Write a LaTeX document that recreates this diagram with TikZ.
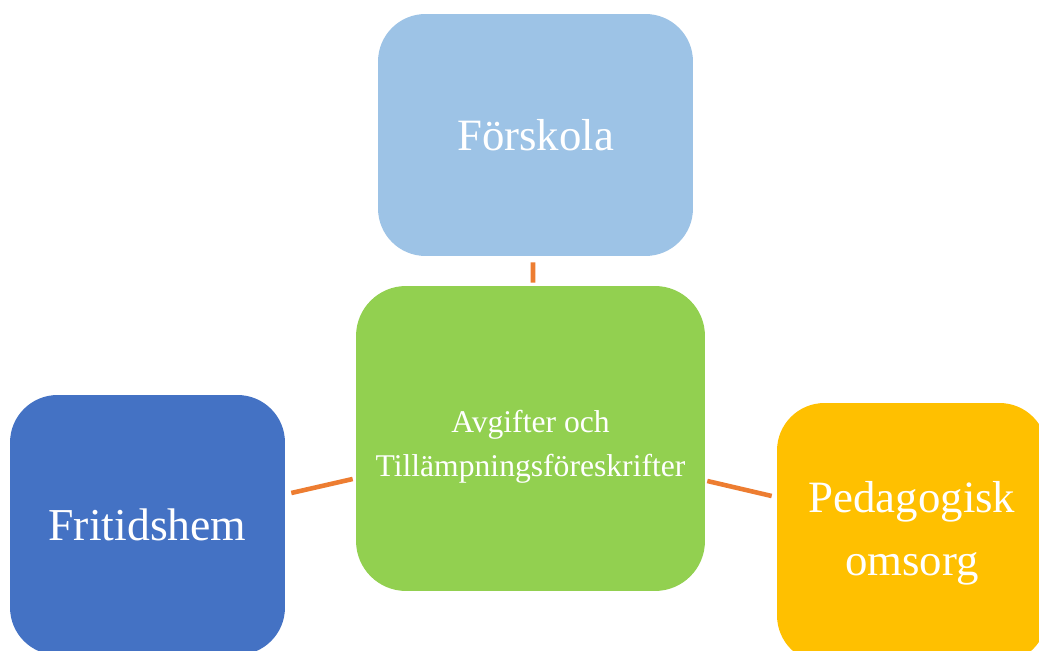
\documentclass[tikz,border=0pt]{standalone}
\usepackage{fontspec}
\setmainfont{Liberation Serif}
\usetikzlibrary{positioning,calc}
\definecolor{fsBlue}{HTML}{9DC3E6}
\definecolor{avGreen}{HTML}{92D050}
\definecolor{frBlue}{HTML}{4472C4}
\definecolor{peGold}{HTML}{FFC000}
\definecolor{lnOrange}{HTML}{ED7D31}
\begin{document}
\begin{tikzpicture}[x=0.02cm,y=-0.02cm,
      b/.style={rounded corners=0.95cm,align=center,text=white,inner sep=0pt},
      link/.style={draw=lnOrange,line width=2.6pt}]
    \clip (0,0) rectangle (1039,651);
    \fill[white] (0,0) rectangle (1039,651);
    \node[b,fill=fsBlue,minimum width=6.3cm,minimum height=4.84cm,font=\fontsize{25.5}{30}\selectfont] (fors) at (535.5,135) {Förskola};
    \node[b,fill=avGreen,minimum width=6.98cm,minimum height=6.1cm,rounded corners=1cm,text height=47pt,font=\fontsize{18}{25}\selectfont] (avg) at (530.5,438.5) {Avgifter och\\Tillämpningsföreskrifter};
    \node[b,fill=frBlue,minimum width=5.5cm,minimum height=5.2cm,font=\fontsize{26}{30}\selectfont] (frit) at (147.5,525) {Fritidshem};
    \node[b,fill=peGold,minimum width=5.4cm,minimum height=5.2cm,font=\fontsize{25.5}{36}\selectfont] (ped) at (912,533) {Pedagogisk\\omsorg};
    % connectors
    \draw[link] ([shift={(-2.5,6)}]fors.south) -- ([shift={(2.5,-3)}]avg.north);
    \draw[link] ([shift={(6,-32)}]frit.east) -- ([shift={(-3,40.5)}]avg.west);
    \draw[link] ([shift={(2,42.5)}]avg.east) -- ([shift={(-5,-37)}]ped.west);
\end{tikzpicture}
\end{document}
